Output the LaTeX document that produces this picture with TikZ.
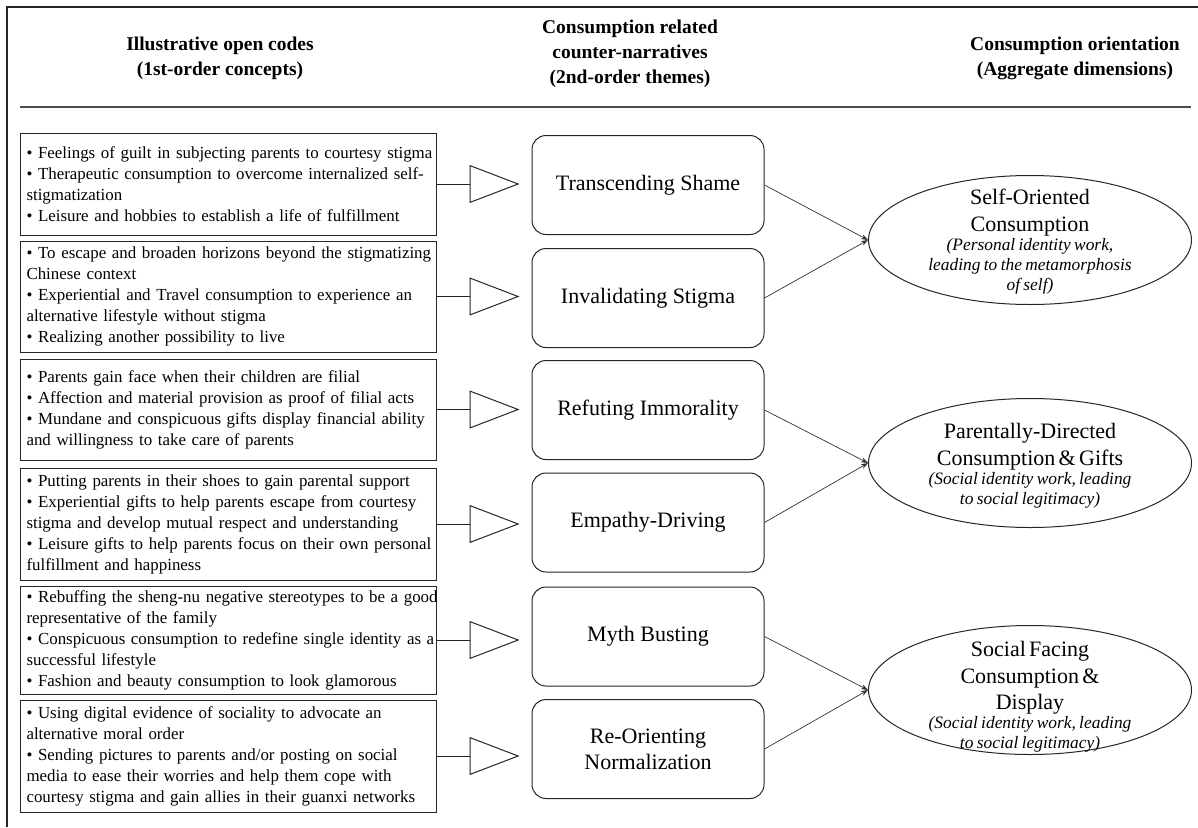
\documentclass[tikz,border=0pt]{standalone}
\usepackage{fontspec}
\setmainfont{Liberation Serif}
\usetikzlibrary{shapes.geometric,arrows.meta}
\hyphenpenalty=10000
\exhyphenpenalty=10000
% one unbreakable line of a concept list
\newcommand\codeln[1]{\mbox{#1}}
\begin{document}
\begin{tikzpicture}[x=1pt,y=-1pt,
  head/.style={align=center,font=\bfseries\fontsize{19.5}{25}\selectfont},
  codebox/.style={draw=black!85,line width=1pt,text width=404pt,align=left,
    inner xsep=6pt,inner ysep=2pt,
    font=\fontsize{16.9}{21}\selectfont},
  theme/.style={draw=black!85,line width=1pt,rounded corners=14pt,
    minimum width=232pt,minimum height=99pt,align=center,
    font=\fontsize{22}{26}\selectfont},
  dimension/.style={draw=black!85,line width=1pt,ellipse,inner sep=0pt,
    minimum width=323pt,minimum height=129pt},
  dimtext/.style={text width=310pt,align=center,inner sep=0pt},
  feed/.style={draw=black!85,line width=1pt,
    -{Triangle[open,length=50pt,width=38pt]},shorten >=12pt},
  link/.style={draw=black!80,line width=0.7pt,
    -{Stealth[length=7pt,width=5pt]}},
]
\useasboundingbox (0,0) rectangle (1198,827);

% frame and header rule
\coordinate (frameTL) at (7,7);
\coordinate (frameTR) at (1198,7);
\coordinate (frameBL) at (7,827);
\draw[line width=2pt,black!85] (frameTR) -- (frameTL) -- (frameBL);
\coordinate (ruleL) at (20,107);
\coordinate (ruleR) at (1191,107);
\draw[line width=1.6pt,black!70] (ruleL) -- (ruleR);

% column headings
\node[head] (h1) at (220,58) {Illustrative open codes\\(1st-order concepts)};
\node[head] (h2) at (630,54) {Consumption related\\counter-narratives\\(2nd-order themes)};
\node[head] (h3) at (1075,58) {Consumption orientation\\(Aggregate dimensions)};

% first-order concepts
\node[codebox,minimum height=102pt] (c1) at (228.5,184) {%
\codeln{• Feelings of guilt in subjecting parents to courtesy stigma}\\
\codeln{• Therapeutic consumption to overcome internalized self-}\\
\codeln{stigmatization}\\
\codeln{• Leisure and hobbies to establish a life of fulfillment}};
\node[codebox,minimum height=111pt] (c2) at (228.5,296.5) {%
\codeln{• To escape and broaden horizons beyond the stigmatizing}\\
\codeln{Chinese context}\\
\codeln{• Experiential and Travel consumption to experience an}\\
\codeln{alternative lifestyle without stigma}\\
\codeln{• Realizing another possibility to live}};
\node[codebox,minimum height=101pt] (c3) at (228.5,409.5) {%
\codeln{• Parents gain face when their children are filial}\\
\codeln{• Affection and material provision as proof of filial acts}\\
\codeln{• Mundane and conspicuous gifts display financial ability}\\
\codeln{and willingness to take care of parents}};
\node[codebox,minimum height=112pt] (c4) at (228.5,524) {%
\codeln{• Putting parents in their shoes to gain parental support}\\
\codeln{• Experiential gifts to help parents escape from courtesy}\\
\codeln{stigma and develop mutual respect and understanding}\\
\codeln{• Leisure gifts to help parents focus on their own personal}\\
\codeln{fulfillment and happiness}};
\node[codebox,minimum height=108pt] (c5) at (228.5,640) {%
\codeln{• Rebuffing the sheng-nu negative stereotypes to be a good}\\
\codeln{representative of the family}\\
\codeln{• Conspicuous consumption to redefine single identity as a}\\
\codeln{successful lifestyle}\\
\codeln{• Fashion and beauty consumption to look glamorous}};
\node[codebox,minimum height=112pt] (c6) at (228.5,756) {%
\codeln{• Using digital evidence of sociality to advocate an}\\
\codeln{alternative moral order}\\
\codeln{• Sending pictures to parents and/or posting on social}\\
\codeln{media to ease their worries and help them cope with}\\
\codeln{courtesy stigma and gain allies in their guanxi networks}};

% second-order themes
\node[theme] (r1) at (648,185) {Transcending Shame};
\node[theme] (r2) at (648,298) {Invalidating Stigma};
\node[theme] (r3) at (648,410) {Refuting Immorality};
\node[theme] (r4) at (648,522.5) {Empathy-Driving};
\node[theme] (r5) at (648,636.5) {Myth Busting};
\node[theme] (r6) at (648,749) {Re-Orienting\\Normalization};

% aggregate dimensions
\node[dimension] (e1) at (1030,240) {};
\node[dimension] (e2) at (1030,463) {};
\node[dimension] (e3) at (1030,690) {};

\node[dimtext] (t1) at (1030,242) {%
{\fontsize{22}{27}\selectfont Self-Oriented\\Consumption\par}
\vspace{-1pt}
{\fontsize{17.4}{20}\selectfont\itshape (Personal identity work,\\leading to the metamorphosis\\of self)\par}};
\node[dimtext] (t2) at (1030,466) {%
{\fontsize{22}{27}\selectfont Parentally-Directed\\Consumption \& Gifts\par}
\vspace{-1pt}
{\fontsize{17.4}{20}\selectfont\itshape (Social identity work, leading\\to social legitimacy)\par}};
\node[dimtext] (t3) at (1030,697) {%
{\fontsize{22}{26.5}\selectfont Social Facing\\Consumption \&\\Display\par}
\vspace{-1pt}
{\fontsize{17.4}{20}\selectfont\itshape (Social identity work, leading\\to social legitimacy)\par}};

% concepts feed the themes
\foreach \i in {1,...,6}
  \draw[feed] (c\i.east) -- (c\i.east -| r\i.west);

% themes converge on dimensions
\draw[link] (r1.east) -- (e1.west);
\draw[link] (r2.east) -- (e1.west);
\draw[link] (r3.east) -- (e2.west);
\draw[link] (r4.east) -- (e2.west);
\draw[link] (r5.east) -- (e3.west);
\draw[link] (r6.east) -- (e3.west);
\end{tikzpicture}
\end{document}
